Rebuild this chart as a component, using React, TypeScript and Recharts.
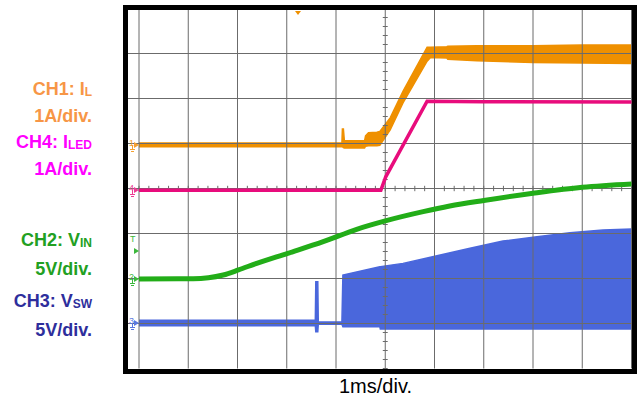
import React from "react";
import { Area, ComposedChart, Line, ReferenceLine, XAxis, YAxis } from "recharts";

// scope screen: 10 time divisions (1 ms/div) by 8 vertical divisions
const gridTimes = [0, 1, 2, 3, 4, 5, 6, 7, 8, 9, 10];
const gridLevels = [1, 2, 3, 4, 5, 6, 7];

// CH1: inductor current envelope, A
const ilTime = [0, 4.12, 4.13, 4.15, 4.17, 4.58, 4.6, 4.66, 4.83, 4.89, 5.1, 5.36, 5.85, 5.92, 6.25, 6.27, 6.86, 8.0, 9.0, 10.01];
const ilLow = [-0.04, -0.04, -0.04, -0.06, -0.07, -0.07, -0.03, -0.02, -0.02, -0.01, 0.33, 0.93, 1.86, 1.94, 1.93, 1.9, 1.87, 1.83, 1.82, 1.81];
const ilHigh = [0.04, 0.04, 0.35, 0.35, 0.09, 0.09, 0.2, 0.27, 0.28, 0.3, 0.6, 1.19, 2.17, 2.17, 2.18, 2.19, 2.2, 2.2, 2.22, 2.22];

// CH4: LED current, A
const iledTime = [0, 4.91, 5.01, 5.85, 7.0, 10.01];
const iledAmps = [0, 0, 0.3, 1.98, 1.97, 1.96];

// CH2: input voltage, V
const vinTime = [0, 1.1, 1.71, 2.02, 2.39, 3.02, 3.74, 4.42, 5.02, 5.77, 6.31, 7.0, 8.0, 9.0, 10.01];
const vinVolts = [0, 0.02, 0.44, 1.0, 1.74, 2.85, 4.14, 5.52, 6.48, 7.48, 8.1, 8.72, 9.52, 10.19, 10.56];

// CH3: switch node envelope, V
const vswTime = [0, 3.58, 3.59, 3.63, 3.64, 4.12, 4.14, 4.89, 4.9, 5.36, 6.05, 6.72, 7.39, 8.08, 8.75, 9.42, 10.01];
const vswLow = [-0.3, -0.3, -0.97, -0.97, -0.12, -0.12, -0.4, -0.4, -0.67, -0.67, -0.67, -0.67, -0.67, -0.67, -0.67, -0.67, -0.67];
const vswHigh = [0.3, 0.3, 4.6, 4.6, 0.12, 0.12, 5.33, 6.26, 6.27, 6.63, 7.48, 8.3, 9.11, 9.59, 10.03, 10.33, 10.44];

// ground marker position (divisions above bottom) and units per division
const ch1Ground = 4.97;
const ch2Ground = 1.99;
const ch3Ground = 1.01;
const ch4Ground = 3.96;

const ilData = ilTime.map((t, i) => ({ t, v: [ilLow[i], ilHigh[i]] }));
const iledData = iledTime.map((t, i) => ({ t, v: iledAmps[i] }));
const vinData = vinTime.map((t, i) => ({ t, v: vinVolts[i] }));
const vswData = vswTime.map((t, i) => ({ t, v: [vswLow[i], vswHigh[i]] }));

const domainFor = (ground: number, perDiv: number): [number, number] => [
  -ground * perDiv,
  (8 - ground) * perDiv,
];

const minorX: number[] = [];
for (let i = 0; i <= 50; i++) minorX.push(i / 5);
const minorY: number[] = [];
for (let i = 0; i <= 40; i++) minorY.push(i / 5);

const FONT = "'Liberation Sans', Arial, sans-serif";

function Label({ top, color, main, sub }: { top: number; color: string; main: string; sub?: string }) {
  return (
    <div
      style={{
        position: "absolute",
        left: 0,
        top,
        width: 92,
        textAlign: "right",
        color,
        fontFamily: FONT,
        fontWeight: 700,
        fontSize: 18,
        lineHeight: "18px",
        whiteSpace: "nowrap",
      }}
    >
      {main}
      {sub && <span style={{ fontSize: 12, position: "relative", top: 1 }}>{sub}</span>}
    </div>
  );
}

function Marker({ y, color, label }: { y: number; color: string; label: string }) {
  return (
    <div style={{ position: "absolute", left: 128, top: y - 6, width: 11, height: 14, color }}>
      <span style={{ position: "absolute", left: 1, top: 0, fontSize: 9, lineHeight: "9px", fontFamily: FONT }}>
        {label}
      </span>
      <div
        style={{
          position: "absolute",
          left: 6,
          top: 3,
          width: 0,
          height: 0,
          borderTop: "3px solid transparent",
          borderBottom: "3px solid transparent",
          borderLeft: `5px solid ${color}`,
        }}
      />
      <div style={{ position: "absolute", left: 4, top: 6, width: 1, height: 4, background: color }} />
      <div style={{ position: "absolute", left: 2, top: 10, width: 5, height: 1, background: color }} />
      <div style={{ position: "absolute", left: 3, top: 12, width: 3, height: 1, background: color }} />
    </div>
  );
}

export default function App() {
  return (
    <div style={{ position: "absolute", left: 0, top: 0, width: 640, height: 403, background: "#fff" }}>
      <div style={{ position: "absolute", left: 0, top: 0 }}>
        <ComposedChart width={640} height={403} margin={{ top: 8.5, right: 8.5, bottom: 34.5, left: 128 }}>
          <XAxis type="number" dataKey="t" domain={[-0.2234, 10]} allowDataOverflow hide />
          <YAxis yAxisId="grid" type="number" domain={[0, 8]} allowDataOverflow hide />
          <YAxis yAxisId="ch1" type="number" domain={domainFor(ch1Ground, 1)} allowDataOverflow hide />
          <YAxis yAxisId="ch2" type="number" domain={domainFor(ch2Ground, 5)} allowDataOverflow hide />
          <YAxis yAxisId="ch3" type="number" domain={domainFor(ch3Ground, 5)} allowDataOverflow hide />
          <YAxis yAxisId="ch4" type="number" domain={domainFor(ch4Ground, 1)} allowDataOverflow hide />

          {gridTimes.map((t) => (
            <ReferenceLine key={`gx${t}`} yAxisId="grid" x={t} stroke="#6b6b6b" strokeWidth={1} />
          ))}
          {gridLevels.map((y) => (
            <ReferenceLine key={`gy${y}`} yAxisId="grid" y={y} stroke="#6b6b6b" strokeWidth={1} />
          ))}
          {minorY.map((y) => (
            <ReferenceLine
              key={`my${y}`}
              yAxisId="grid"
              segment={[{ x: 4.95, y }, { x: 5.05, y }]}
              stroke="#6b6b6b"
            />
          ))}
          {minorX.map((t) => (
            <ReferenceLine
              key={`mx${t}`}
              yAxisId="grid"
              segment={[{ x: t, y: 3.94 }, { x: t, y: 4.06 }]}
              stroke="#6b6b6b"
            />
          ))}

          <Area
            yAxisId="ch3"
            data={vswData}
            dataKey="v"
            type="linear"
            stroke="#4a67dc"
            strokeWidth={1.5}
            fill="#4a67dc"
            fillOpacity={1}
            dot={false}
            activeDot={false}
            isAnimationActive={false}
          />
          <Line
            yAxisId="ch2"
            data={vinData}
            dataKey="v"
            type="monotone"
            stroke="#22ad18"
            strokeWidth={5}
            dot={false}
            activeDot={false}
            isAnimationActive={false}
          />
          <Line
            yAxisId="ch4"
            data={iledData}
            dataKey="v"
            type="linear"
            stroke="#e80c7c"
            strokeWidth={3.5}
            dot={false}
            activeDot={false}
            isAnimationActive={false}
          />
          <Area
            yAxisId="ch1"
            data={ilData}
            dataKey="v"
            type="linear"
            stroke="#ef9000"
            strokeWidth={1.5}
            fill="#ef9000"
            fillOpacity={1}
            dot={false}
            activeDot={false}
            isAnimationActive={false}
          />
        </ComposedChart>
      </div>

      {/* scope bezel */}
      <div
        style={{
          position: "absolute",
          left: 123,
          top: 5,
          width: 514,
          height: 369,
          border: "5.5px solid #000",
          boxSizing: "border-box",
          pointerEvents: "none",
        }}
      />

      {/* trigger position */}
      <div
        style={{
          position: "absolute",
          left: 295,
          top: 11,
          width: 0,
          height: 0,
          borderLeft: "3px solid transparent",
          borderRight: "3px solid transparent",
          borderTop: "4px solid #ef9000",
        }}
      />

      <Marker y={145} color="#f5a030" label="1" />
      <Marker y={190} color="#ee3c94" label="4" />
      <Marker y={279} color="#3cb83c" label="2" />
      <Marker y={323} color="#5a78e0" label="3" />
      <div style={{ position: "absolute", left: 130, top: 235, color: "#3cb83c", fontSize: 9, lineHeight: "9px", fontFamily: FONT }}>
        T
      </div>
      <div
        style={{
          position: "absolute",
          left: 134,
          top: 248,
          width: 0,
          height: 0,
          borderTop: "3px solid transparent",
          borderBottom: "3px solid transparent",
          borderLeft: "5px solid #3cb83c",
        }}
      />

      <Label top={79.8} color="#f79646" main="CH1: I" sub="L" />
      <Label top={106.5} color="#f79646" main="1A/div." />
      <Label top={133.1} color="#ff00ff" main="CH4: I" sub="LED" />
      <Label top={159.8} color="#ff00ff" main="1A/div." />
      <Label top={230.8} color="#22a022" main="CH2: V" sub="IN" />
      <Label top={259.8} color="#22a022" main="5V/div." />
      <Label top={291.5} color="#2e2e9c" main="CH3: V" sub="SW" />
      <Label top={320.8} color="#2e2e9c" main="5V/div." />

      <div
        style={{
          position: "absolute",
          left: 275.5,
          top: 376,
          width: 200,
          textAlign: "center",
          fontFamily: FONT,
          fontSize: 20,
          lineHeight: "20px",
          color: "#000",
        }}
      >
        1ms/div.
      </div>
    </div>
  );
}
